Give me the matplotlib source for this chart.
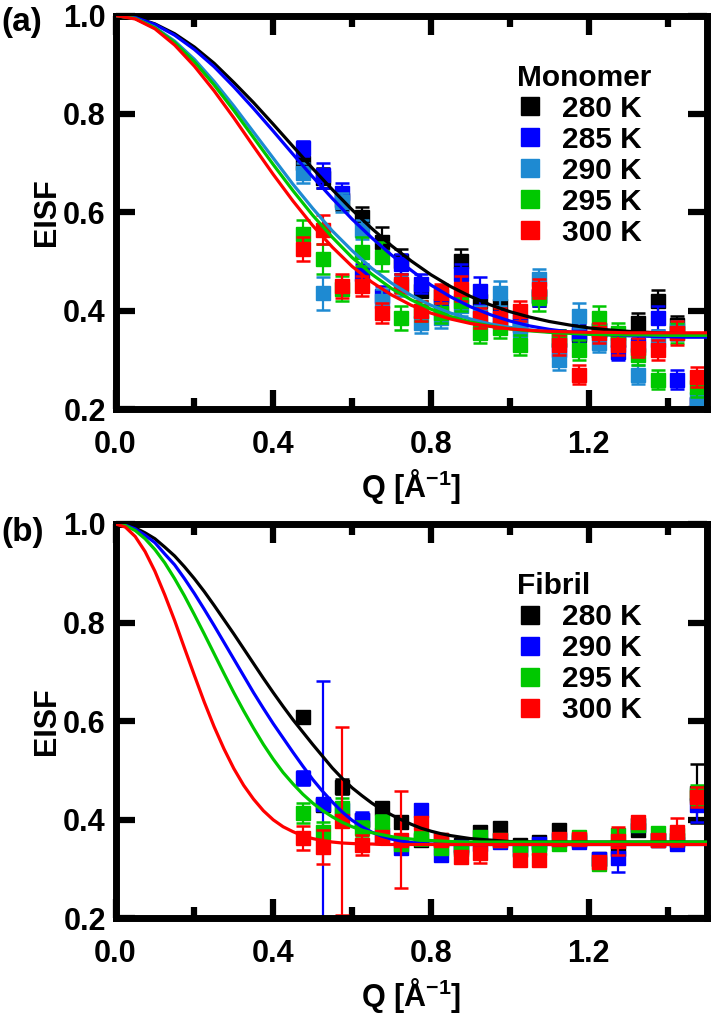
import matplotlib
matplotlib.use('Agg')
import matplotlib.pyplot as plt
from matplotlib.ticker import MultipleLocator, FormatStrFormatter

plt.rcParams['font.family'] = 'Liberation Sans'
plt.rcParams['font.weight'] = 'bold'
plt.rcParams['axes.labelweight'] = 'bold'
plt.rcParams['mathtext.fontset'] = 'custom'
plt.rcParams['mathtext.rm'] = 'Liberation Sans:bold'
plt.rcParams['mathtext.default'] = 'rm'

# measured Q points (same for every series)
q = [0.475, 0.525, 0.575, 0.625, 0.675, 0.725, 0.775, 0.825, 0.875, 0.925, 0.975,
     1.025, 1.075, 1.125, 1.175, 1.225, 1.275, 1.325, 1.375, 1.425, 1.475]

# Q grid of the fitted curves, panel (a)
q_fit_a = [0.0, 0.05, 0.1, 0.15, 0.2, 0.25, 0.3, 0.35, 0.4, 0.45, 0.5, 0.55, 0.6, 0.65, 0.7, 0.75,
           0.8, 0.85, 0.9, 0.95, 1.0, 1.05, 1.1, 1.15, 1.2, 1.25, 1.3, 1.35, 1.4, 1.45, 1.5]
# panel (b) curves drop faster -> finer grid at low Q
q_fit_b = [0.0, 0.025, 0.05, 0.075, 0.1, 0.125, 0.15, 0.175, 0.2, 0.225, 0.25, 0.275, 0.3, 0.325,
           0.35, 0.375, 0.4, 0.425, 0.45, 0.475, 0.5, 0.525, 0.55, 0.575, 0.6, 0.625, 0.65, 0.675,
           0.7, 0.725, 0.75, 0.775, 0.8, 0.825, 0.85, 0.875, 0.9, 1.0, 1.1, 1.2, 1.3, 1.4, 1.5]

# ---- (a) Monomer ----
mono_labels = ['280 K', '285 K', '290 K', '295 K', '300 K']
mono_colors = ['#000000', '#0000ff', '#1e8ad2', '#00c800', '#ff0000']

mono_280 = [0.70, 0.67, 0.625, 0.59, 0.54, 0.50, 0.44, 0.43, 0.50, 0.42, 0.41, 0.37, 0.43, 0.34, 0.35, 0.36, 0.34, 0.375, 0.42, 0.37, 0.21]
mono_285 = [0.73, 0.675, 0.64, 0.475, 0.43, 0.495, 0.455, 0.41, 0.475, 0.44, 0.38, 0.38, 0.43, 0.32, 0.355, 0.36, 0.315, 0.33, 0.385, 0.26, 0.21]
mono_290 = [0.68, 0.435, 0.62, 0.565, 0.42, 0.45, 0.375, 0.385, 0.41, 0.39, 0.435, 0.36, 0.465, 0.30, 0.39, 0.335, 0.34, 0.27, 0.34, 0.36, 0.22]
mono_295 = [0.555, 0.505, 0.445, 0.52, 0.51, 0.385, 0.40, 0.395, 0.42, 0.355, 0.365, 0.33, 0.425, 0.34, 0.32, 0.385, 0.355, 0.31, 0.26, 0.355, 0.245]
mono_300 = [0.525, 0.565, 0.45, 0.45, 0.395, 0.455, 0.40, 0.435, 0.445, 0.385, 0.385, 0.40, 0.445, 0.33, 0.27, 0.355, 0.33, 0.325, 0.32, 0.355, 0.265]

mono_280_err = [0.015, 0.02, 0.02, 0.02, 0.03, 0.025, 0.02, 0.02, 0.025, 0.02, 0.02, 0.02, 0.02, 0.02, 0.02, 0.02, 0.02, 0.02, 0.022, 0.02, 0.02]
mono_285_err = [0.015, 0.025, 0.02, 0.02, 0.02, 0.02, 0.02, 0.02, 0.02, 0.028, 0.02, 0.02, 0.02, 0.02, 0.02, 0.02, 0.015, 0.02, 0.025, 0.02, 0.02]
mono_290_err = [0.02, 0.033, 0.02, 0.02, 0.025, 0.02, 0.02, 0.02, 0.02, 0.02, 0.025, 0.02, 0.02, 0.02, 0.025, 0.02, 0.02, 0.02, 0.02, 0.02, 0.02]
mono_295_err = [0.03, 0.03, 0.025, 0.03, 0.03, 0.025, 0.02, 0.02, 0.02, 0.02, 0.02, 0.02, 0.025, 0.02, 0.02, 0.025, 0.02, 0.02, 0.02, 0.02, 0.02]
mono_300_err = [0.024, 0.03, 0.025, 0.02, 0.02, 0.02, 0.02, 0.02, 0.025, 0.02, 0.02, 0.02, 0.02, 0.02, 0.02, 0.02, 0.02, 0.02, 0.02, 0.025, 0.02]

mono_fit_280 = [1.0, 0.996, 0.983, 0.963, 0.936, 0.903, 0.864, 0.823, 0.779, 0.734, 0.689, 0.646, 0.605, 0.567, 0.532, 0.501,
                0.473, 0.449, 0.429, 0.412, 0.398, 0.387, 0.378, 0.371, 0.365, 0.361, 0.358, 0.356, 0.354, 0.353, 0.352]
mono_fit_285 = [1.0, 0.996, 0.982, 0.960, 0.931, 0.896, 0.855, 0.811, 0.765, 0.718, 0.672, 0.628, 0.586, 0.548, 0.513, 0.482,
                0.452, 0.428, 0.408, 0.392, 0.379, 0.369, 0.362, 0.357, 0.353, 0.351, 0.349, 0.348, 0.347, 0.346, 0.346]
mono_fit_290 = [1.0, 0.994, 0.976, 0.948, 0.911, 0.866, 0.816, 0.763, 0.710, 0.657, 0.608, 0.562, 0.522, 0.486, 0.456, 0.431,
                0.411, 0.395, 0.383, 0.373, 0.366, 0.361, 0.357, 0.355, 0.353, 0.352, 0.351, 0.351, 0.350, 0.350, 0.350]
mono_fit_295 = [1.0, 0.994, 0.975, 0.945, 0.906, 0.859, 0.807, 0.752, 0.697, 0.644, 0.594, 0.549, 0.508, 0.474, 0.445, 0.422,
                0.403, 0.388, 0.377, 0.369, 0.363, 0.359, 0.356, 0.354, 0.352, 0.351, 0.351, 0.351, 0.350, 0.350, 0.350]
mono_fit_300 = [1.0, 0.993, 0.973, 0.940, 0.897, 0.847, 0.792, 0.734, 0.677, 0.623, 0.573, 0.529, 0.490, 0.458, 0.432, 0.411,
                0.395, 0.383, 0.374, 0.368, 0.363, 0.360, 0.358, 0.357, 0.356, 0.356, 0.355, 0.355, 0.355, 0.355, 0.355]

# ---- (b) Fibril ----
fib_labels = ['280 K', '290 K', '295 K', '300 K']
fib_colors = ['#000000', '#0000ff', '#00c800', '#ff0000']

fib_280 = [0.609, 0.43, 0.467, 0.40, 0.424, 0.396, 0.36, 0.36, 0.349, 0.375, 0.383, 0.349, 0.355, 0.379, 0.36, 0.32, 0.34, 0.379, 0.36, 0.36, 0.454]
fib_290 = [0.485, 0.432, 0.42, 0.40, 0.37, 0.343, 0.42, 0.328, 0.345, 0.35, 0.355, 0.34, 0.35, 0.36, 0.355, 0.32, 0.322, 0.39, 0.36, 0.351, 0.43]
fib_295 = [0.414, 0.375, 0.424, 0.383, 0.395, 0.352, 0.363, 0.342, 0.34, 0.365, 0.36, 0.338, 0.342, 0.352, 0.365, 0.31, 0.37, 0.39, 0.373, 0.37, 0.45]
fib_300 = [0.363, 0.345, 0.398, 0.349, 0.365, 0.36, 0.393, 0.359, 0.324, 0.332, 0.359, 0.318, 0.318, 0.361, 0.361, 0.314, 0.357, 0.395, 0.359, 0.375, 0.446]

fib_280_err = [0.012, 0.01, 0.015, 0.01, 0.01, 0.01, 0.01, 0.01, 0.01, 0.012, 0.01, 0.01, 0.01, 0.01, 0.01, 0.01, 0.01, 0.01, 0.01, 0.01, 0.06]
fib_290_err = [0.015, 0.25, 0.01, 0.015, 0.01, 0.01, 0.01, 0.01, 0.01, 0.01, 0.01, 0.01, 0.01, 0.01, 0.01, 0.01, 0.028, 0.01, 0.01, 0.012, 0.035]
fib_295_err = [0.02, 0.02, 0.02, 0.015, 0.015, 0.01, 0.015, 0.01, 0.01, 0.01, 0.01, 0.01, 0.01, 0.01, 0.01, 0.01, 0.01, 0.01, 0.01, 0.01, 0.02]
fib_300_err = [0.025, 0.035, 0.19, 0.02, 0.012, 0.098, 0.01, 0.01, 0.01, 0.02, 0.01, 0.01, 0.01, 0.01, 0.01, 0.01, 0.028, 0.01, 0.01, 0.028, 0.02]

fib_fit_280 = [1.0, 0.998, 0.992, 0.982, 0.970, 0.953, 0.935, 0.913, 0.889, 0.863, 0.835, 0.806, 0.777, 0.747, 0.717,
               0.687, 0.658, 0.630, 0.603, 0.578, 0.553, 0.529, 0.505, 0.484, 0.465, 0.449, 0.434, 0.421, 0.410, 0.400,
               0.391, 0.383, 0.377, 0.372, 0.368, 0.365, 0.362, 0.356, 0.355, 0.355, 0.355, 0.355, 0.355]
fib_fit_290 = [1.0, 0.9975, 0.990, 0.977, 0.962, 0.939, 0.917, 0.889, 0.859, 0.827, 0.794, 0.760, 0.726, 0.692, 0.658,
               0.626, 0.595, 0.566, 0.537, 0.509, 0.482, 0.458, 0.436, 0.416, 0.399, 0.386, 0.375, 0.367, 0.361, 0.357,
               0.354, 0.352, 0.351, 0.3505, 0.350, 0.350, 0.350, 0.350, 0.350, 0.350, 0.350, 0.350, 0.350]
fib_fit_295 = [1.0, 0.9966, 0.9866, 0.970, 0.948, 0.921, 0.889, 0.854, 0.816, 0.777, 0.737, 0.697, 0.658, 0.621, 0.586,
               0.553, 0.523, 0.496, 0.473, 0.452, 0.434, 0.419, 0.406, 0.395, 0.386, 0.379, 0.374, 0.370, 0.366, 0.363,
               0.361, 0.359, 0.358, 0.357, 0.356, 0.3555, 0.355, 0.355, 0.355, 0.355, 0.355, 0.355, 0.355]
fib_fit_300 = [1.0, 0.9936, 0.9745, 0.944, 0.904, 0.856, 0.804, 0.748, 0.693, 0.639, 0.589, 0.544, 0.504, 0.470, 0.442,
               0.4185, 0.400, 0.386, 0.376, 0.3676, 0.362, 0.358, 0.355, 0.353, 0.352, 0.351, 0.351, 0.350, 0.350, 0.350,
               0.350, 0.350, 0.350, 0.350, 0.350, 0.350, 0.350, 0.350, 0.350, 0.350, 0.350, 0.350, 0.350]


def draw_panel(ax, labels, colors, values, errors, q_fit, fits, title, leg_y):
    handles = []
    for lab, col, y, e in zip(labels, colors, values, errors):
        ax.errorbar(q, y, yerr=e, fmt='none', ecolor=col, elinewidth=1.6,
                    capsize=5, capthick=1.8, zorder=2)
        h, = ax.plot(q, y, 's', color=col, markersize=9.5, label=lab, zorder=2)
        handles.append(h)
    # fitted curves on top of the points
    for col, f in zip(colors, fits):
        ax.plot(q_fit, f, '-', color=col, lw=2.3, zorder=4, solid_joinstyle='round')

    ax.set_xlim(0, 1.5)
    ax.set_ylim(0.2, 1.0)
    ax.xaxis.set_major_locator(MultipleLocator(0.4))
    ax.xaxis.set_minor_locator(MultipleLocator(0.2))
    ax.yaxis.set_major_locator(MultipleLocator(0.2))
    ax.xaxis.set_major_formatter(FormatStrFormatter('%.1f'))
    ax.yaxis.set_major_formatter(FormatStrFormatter('%.1f'))
    ax.tick_params(which='both', direction='in', top=True, right=True,
                   width=4.5, labelsize=22)
    ax.tick_params(axis='x', pad=15)
    ax.tick_params(axis='y', pad=7)
    ax.tick_params(which='major', length=14)
    ax.tick_params(which='minor', length=8)
    for s in ax.spines.values():
        s.set_linewidth(5)

    ax.set_xlabel('Q [Å$^{-1}$]', fontsize=22, labelpad=5)
    ax.set_ylabel('EISF', fontsize=22, labelpad=1)

    leg = ax.legend(handles=handles, title=title, loc='upper left',
                    bbox_to_anchor=(0.678, leg_y), frameon=False,
                    fontsize=21.5, title_fontsize=21.5, markerscale=1.4,
                    handlelength=0.9, handletextpad=0.62, labelspacing=0.1,
                    borderpad=0, borderaxespad=0, alignment='left')
    leg.get_title().set_fontweight('bold')


fig = plt.figure(figsize=(7.13, 10.15), dpi=100)
ax_a = fig.add_axes([0.162, 0.597, 0.8296, 0.3877])
ax_b = fig.add_axes([0.162, 0.0951, 0.8296, 0.3887])

draw_panel(ax_a, mono_labels, mono_colors,
           [mono_280, mono_285, mono_290, mono_295, mono_300],
           [mono_280_err, mono_285_err, mono_290_err, mono_295_err, mono_300_err],
           q_fit_a,
           [mono_fit_280, mono_fit_285, mono_fit_290, mono_fit_295, mono_fit_300],
           'Monomer', 0.877)
draw_panel(ax_b, fib_labels, fib_colors,
           [fib_280, fib_290, fib_295, fib_300],
           [fib_280_err, fib_290_err, fib_295_err, fib_300_err],
           q_fit_b,
           [fib_fit_280, fib_fit_290, fib_fit_295, fib_fit_300],
           'Fibril', 0.878)

fig.text(0.002, 1 - 22 / 1015, '(a)', fontsize=24, ha='left', va='center')
fig.text(0.002, 1 - 532 / 1015, '(b)', fontsize=24, ha='left', va='center')

fig.savefig('out.png', dpi=100)
